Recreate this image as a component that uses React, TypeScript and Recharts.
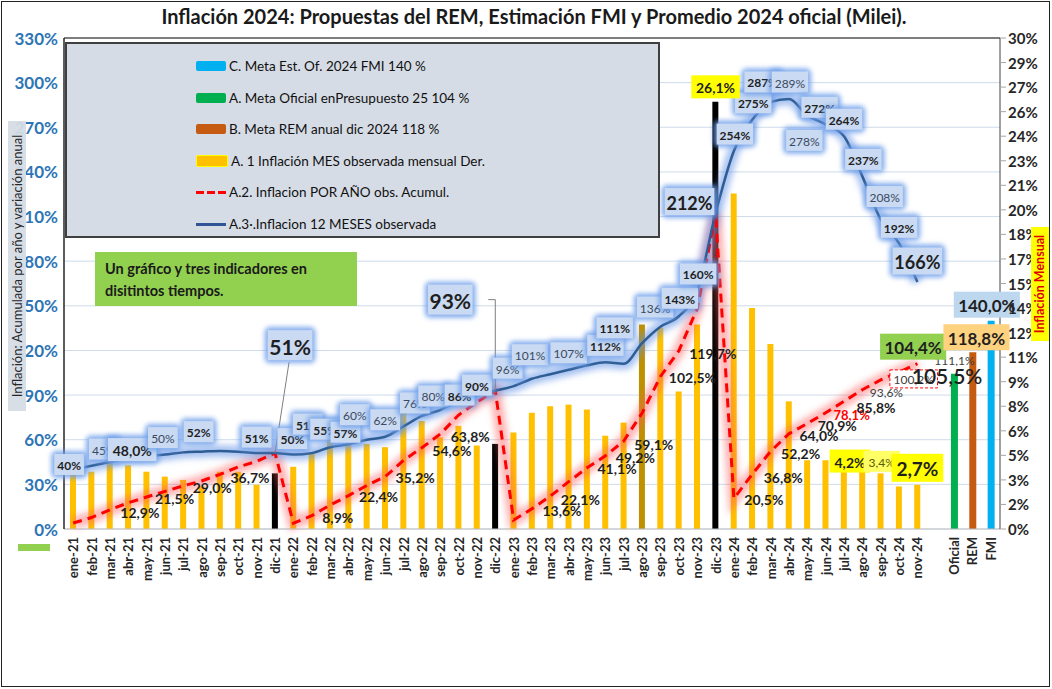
import React from 'react'
import { ComposedChart, Bar, Line, XAxis, YAxis, CartesianGrid, Cell, ReferenceLine } from 'recharts'

const FONT = "Lato, 'Open Sans', sans-serif"

const meses = [
  'ene-21', 'feb-21', 'mar-21', 'abr-21', 'may-21', 'jun-21', 'jul-21', 'ago-21', 'sep-21', 'oct-21', 'nov-21', 'dic-21',
  'ene-22', 'feb-22', 'mar-22', 'abr-22', 'may-22', 'jun-22', 'jul-22', 'ago-22', 'sep-22', 'oct-22', 'nov-22', 'dic-22',
  'ene-23', 'feb-23', 'mar-23', 'abr-23', 'may-23', 'jun-23', 'jul-23', 'ago-23', 'sep-23', 'oct-23', 'nov-23', 'dic-23',
  'ene-24', 'feb-24', 'mar-24', 'abr-24', 'may-24', 'jun-24', 'jul-24', 'ago-24', 'sep-24', 'oct-24', 'nov-24',
]

// inflacion mensual (eje derecho)
const mensual = [
  4.0, 3.5, 4.5, 3.9, 3.5, 3.2, 3.0, 2.6, 3.5, 3.5, 2.7, 3.4,
  3.8, 4.7, 5.5, 5.5, 5.2, 5.0, 7.1, 6.6, 5.6, 6.3, 5.1, 5.2,
  5.9, 7.1, 7.5, 7.6, 7.3, 5.7, 6.5, 12.5, 12.3, 8.4, 12.5, 26.1,
  20.5, 13.5, 11.3, 7.8, 4.2, 4.2, 3.6, 3.6, 3.4, 2.6, 2.7,
]

// inflacion 12 meses (eje izquierdo)
const interanual = [
  40, 42.5, 45, 48, 49, 50, 51.5, 52, 52.5, 52, 51, 51,
  50, 51, 55, 57, 60, 62, 69, 76, 80, 86, 90, 93,
  96, 101, 104, 107, 110, 112, 111, 125, 136, 143, 160, 212,
  254, 275, 287, 289, 278, 272, 264, 237, 208, 192, 166,
]

// inflacion acumulada en el año (eje izquierdo)
const acumulado = [
  4.0, 7.7, 12.9, 17.6, 21.5, 25.3, 29.0, 32.3, 36.7, 41.8, 45.4, 51,
  3.9, 8.9, 16.1, 22.4, 29.3, 35.2, 46.2, 54.6, 63.8, 76.6, 85.3, 93,
  6.0, 13.6, 22.1, 31.8, 41.1, 49.2, 59.1, 78, 102.5, 119.7, 148, 212,
  20.5, 36.8, 52.2, 64.0, 70.9, 78.1, 85.8, 93.6, 100.2, 105.5, 111.1,
]

const metasCat = ['Oficial', 'REM', 'FMI']
const metas = [104.4, 118.8, 140.0]
const metasColor = ['#00B050', '#C55A11', '#00B0F0']

const ticksIzq = [0, 15, 30, 45, 60, 75, 90, 105, 120, 135, 150, 165, 180, 195, 210, 225, 240, 255, 270, 285, 300, 315, 330]
const ticksDer = [0, 1.5, 3, 4.5, 6, 7.5, 9, 10.5, 12, 13.5, 15, 16.5, 18, 19.5, 21, 22.5, 24, 25.5, 27, 28.5, 30]

const categorias = [...meses, '', ...metasCat]
const data = categorias.map((cat, i) => {
  const m = i < meses.length
  const k = i - meses.length - 1
  return {
    cat,
    mensual: m ? mensual[i] : null,
    interanual: m ? interanual[i] : null,
    acumulado: m ? acumulado[i] : null,
    meta: k >= 0 ? metas[k] : null,
  }
})

const colorMes = (i: number) =>
  meses[i].startsWith('dic') ? '#000000' : meses[i] === 'ago-23' ? '#BF9000' : '#FFC000'

// etiquetas: [texto, dx, dy, estilo]
const etqInteranual: Record<number, [string, number, number, string]> = {
  0: ['40%', -4, -5, 'b'], 2: ['45%', -6, -13, 'g'], 3: ['48,0%', 4, -8, 'm'], 5: ['50%', -2, -17, 'g'],
  7: ['52%', -3, -20, 'b'], 10: ['51%', 0, -16, 'b'], 11: ['51%', 15, -108, 'L'], 12: ['50%', -1, -16, 'b'],
  13: ['51%', -4, -29, 'b'], 14: ['55%', -5, -18, 'b'], 15: ['57%', -3, -12, 'b'], 16: ['60%', -12, -25, 'g'],
  17: ['62%', 0, -17, 'g'], 19: ['76%', -7, -13, 'g'], 20: ['80%', -7, -14, 'g'], 21: ['86%', 1, -6, 'b'],
  22: ['90%', 0, -10, 'b'], 23: ['93%', -45, -91, 'L'], 24: ['96%', -6, -18, 'g'], 25: ['101%', -2, -24, 'g'],
  27: ['107%', 0, -17, 'g'], 29: ['112%', 0, -17, 'b'], 30: ['111%', -9, -36, 'b'], 31: ['136%', 13, -36, 'g'],
  33: ['143%', 1, -18, 'b'], 34: ['160%', 1, -17, 'b'], 35: ['212%', -26, -12, 'X'], 36: ['254%', 1, -17, 'b'],
  37: ['275%', 1, -17, 'b'], 38: ['287%', -8, -20, 'b'], 39: ['289%', 1, -17, 'g'], 40: ['278%', -3, 25, 'g'],
  41: ['272%', -6, -17, 'b'], 42: ['264%', 0, -17, 'b'], 43: ['237%', 1, -17, 'b'], 44: ['208%', 4, -23, 'g'],
  45: ['192%', 0, -16, 'b'], 46: ['166%', 0, -21, 'X'],
}

const etqAcum: Record<number, [string, number, number, string]> = {
  2: ['12,9%', 30, 2, ''], 4: ['21,5%', 28, 0, ''], 6: ['29,0%', 29, 1, ''], 8: ['36,7%', 30, 2, ''],
  13: ['8,9%', 26, 1, ''], 15: ['22,4%', 30, 0, ''], 17: ['35,2%', 30, 0, ''], 19: ['54,6%', 30, 2, ''],
  20: ['63,8%', 30, 1, ''], 25: ['13,6%', 30, 1, ''], 26: ['22,1%', 30, 2, ''], 28: ['41,1%', 30, 0, ''],
  29: ['49,2%', 30, 1, ''], 30: ['59,1%', 30, 2, ''], 32: ['102,5%', 32, 0, ''], 33: ['119,7%', 34, 2, ''],
  36: ['20,5%', 30, 0, ''], 37: ['36,8%', 31, 2, ''], 38: ['52,2%', 30, 1, ''], 39: ['64,0%', 30, 1, ''],
  40: ['70,9%', 30, 1, ''], 41: ['78,1%', 26, 1, 'r'], 42: ['85,8%', 32, 5, ''], 43: ['93,6%', 24, 2, 'g'],
  44: ['100,2%', 33, -1, 'box'], 46: ['111,1%', 37, -4, 'g'], 45: ['105,5%', 48, 2, 'L'],
}

const etqMensual: Record<number, [string, number, number, string]> = {
  35: ['26,1%', 0, -15, 'y'], 42: ['4,2%', 6, -9, 'y'], 44: ['3,4%', 1, -12, 'ly'], 46: ['2,7%', 0, -17, 'Y'],
}

const etqMetas: Record<number, [string, number, number, string]> = {
  48: ['104,4%', -41, -27, '#92D050'], 49: ['118,8%', 4, -15, '#FFD27F'], 50: ['140,0%', -4, -16, '#BDD7EE'],
}

const Caja = ({ cx, cy, text, fs, weight, color, fill, glow }: any) => {
  const w = text.length * fs * 0.55 + 10
  const h = fs + 9
  return (
    <g>
      {glow && (
        <rect x={cx - w / 2 - 3} y={cy - h / 2 - 3} width={w + 6} height={h + 6} rx={5}
          fill={glow} opacity={0.85} filter="url(#suave)" />
      )}
      <rect x={cx - w / 2} y={cy - h / 2} width={w} height={h} fill={fill} />
      <text x={cx} y={cy + 1} textAnchor="middle" dominantBaseline="central" fontSize={fs}
        fontWeight={weight} fill={color} fontFamily={FONT}>{text}</text>
    </g>
  )
}

const dotInteranual = (p: any) => {
  const { cx, cy, index } = p
  const cfg = etqInteranual[index]
  if (cx == null || cy == null || !cfg) return <g key={`bi${index}`} />
  const [t, dx, dy, s] = cfg
  const fs = s === 'L' ? 21 : s === 'X' ? 18 : s === 'm' ? 14 : 12
  const weight = s === 'g' ? 400 : 700
  const color = s === 'g' ? '#3B4A60' : '#1F1F1F'
  const bx = cx + dx
  const by = cy + dy
  return (
    <g key={`bi${index}`}>
      {index === 11 && <line x1={bx - 1} y1={by + 17} x2={cx} y2={cy} stroke="#7F7F7F" strokeWidth={1} />}
      {index === 23 && <polyline points={`${bx + 38},${by} ${cx},${by} ${cx},${cy}`} fill="none" stroke="#7F7F7F" strokeWidth={1} />}
      <Caja cx={bx} cy={by} text={t} fs={fs} weight={weight} color={color} fill="#C9DAF2" glow="#6E9FEA" />
    </g>
  )
}

const dotAcum = (p: any) => {
  const { cx, cy, index } = p
  const cfg = etqAcum[index]
  if (cx == null || cy == null || !cfg) return <g key={`ra${index}`} />
  const [t, dx, dy, s] = cfg
  const fs = s === 'L' ? 21 : s === 'g' || s === 'box' ? 12 : s === 'r' ? 13 : 14
  const color = s === 'r' ? '#FF0000' : s === 'g' || s === 'box' ? '#404040' : '#1F1F1F'
  const weight = s === 'g' || s === 'box' ? 400 : s === 'L' ? 600 : 700
  const w = t.length * fs * 0.55 + 8
  return (
    <g key={`ra${index}`}>
      {s === 'box' && (
        <rect x={cx + dx - w / 2} y={cy + dy - 9} width={w} height={18} fill="#FFFFFF"
          stroke="#FF0000" strokeDasharray="3 2" strokeWidth={1} />
      )}
      <text x={cx + dx} y={cy + dy + 1} textAnchor="middle" dominantBaseline="central" fontSize={fs}
        fontWeight={weight} fill={color} fontFamily={FONT}>{t}</text>
    </g>
  )
}

const dotMensual = (p: any) => {
  const { cx, cy, index } = p
  const cfg = etqMensual[index]
  if (cx == null || cy == null || !cfg) return <g key={`bm${index}`} />
  const [t, dx, dy, s] = cfg
  const fs = s === 'Y' ? 19 : s === 'ly' ? 12 : 14
  return (
    <Caja key={`bm${index}`} cx={cx + dx} cy={cy + dy} text={t} fs={fs} weight={s === 'ly' ? 400 : 700}
      color={s === 'ly' ? '#5A5A00' : '#1F1F1F'} fill={s === 'ly' ? '#FFFF66' : '#FFFF00'} />
  )
}

const dotMetas = (p: any) => {
  const { cx, cy, index } = p
  const cfg = etqMetas[index]
  if (cx == null || cy == null || !cfg) return <g key={`mt${index}`} />
  const [t, dx, dy, fill] = cfg
  return (
    <Caja key={`mt${index}`} cx={cx + dx} cy={cy + dy} text={t} fs={17} weight={700} color="#1F1F1F" fill={fill} />
  )
}

const TickMes = (props: any) => {
  const { x, y, payload } = props
  return (
    <text x={x} y={y} transform={`rotate(-90, ${x}, ${y})`} textAnchor="end" dominantBaseline="central"
      fontSize={13} fontWeight={700} fill="#262626" fontFamily={FONT}>{payload.value}</text>
  )
}

const TickIzq = (props: any) => {
  const { x, y, payload } = props
  return (
    <text x={x} y={y} textAnchor="end" dominantBaseline="central" fontSize={17} fontWeight={700}
      fill="#2E75B6" fontFamily={FONT}>{`${payload.value}%`}</text>
  )
}

const TickDer = (props: any) => {
  const { x, y, payload } = props
  return (
    <text x={x} y={y} textAnchor="start" dominantBaseline="central" fontSize={15} fontWeight={700}
      fill="#262626" fontFamily={FONT}>{`${Math.round(payload.value)}%`}</text>
  )
}

const leyenda = [
  { t: 'C. Meta Est. Of. 2024 FMI 140 %', k: 'bar', c: '#00B0F0' },
  { t: 'A. Meta Oficial enPresupuesto 25 104 %', k: 'bar', c: '#00B050' },
  { t: 'B. Meta REM anual dic 2024 118 %', k: 'bar', c: '#C55A11' },
  { t: 'A. 1 Inflación MES observada mensual Der.', k: 'bar', c: '#FFC000' },
  { t: 'A.2. Inflacion POR AÑO obs. Acumul.', k: 'dash', c: '#FF0000' },
  { t: 'A.3·.Inflacion 12 MESES observada', k: 'line', c: '#2F5597' },
]

const Muestra = ({ k, c }: { k: string; c: string }) => {
  if (k === 'bar') return <div style={{ width: 30, height: 10, background: c, borderRadius: 2, border: c === '#FFC000' ? '1px solid #FFFF00' : 'none' }} />
  if (k === 'dash') {
    return (
      <div style={{ width: 30, height: 10, display: 'flex', alignItems: 'center', gap: 3 }}>
        {[0, 1, 2].map(i => <div key={i} style={{ width: 8, height: 3, background: c }} />)}
      </div>
    )
  }
  return <div style={{ width: 30, height: 10, display: 'flex', alignItems: 'center' }}><div style={{ width: 30, height: 3, background: c }} /></div>
}

export default function App() {
  return (
    <div style={{ position: 'absolute', left: 0, top: 0, width: 1052, height: 689, background: '#fff', fontFamily: FONT, overflow: 'hidden' }}>
      <ComposedChart width={1052} height={689} data={data} margin={{ top: 38, right: 0, bottom: 100, left: 0 }}>
        <defs>
          <filter id="suave" x="-50%" y="-50%" width="200%" height="200%">
            <feGaussianBlur stdDeviation="2.5" />
          </filter>
          <filter id="brillo" filterUnits="userSpaceOnUse" x="0" y="0" width="1052" height="689">
            <feGaussianBlur stdDeviation="3" />
          </filter>
        </defs>
        <CartesianGrid vertical={false} yAxisId="L" xAxisId="x" stroke="#CFDBEA" />
        <XAxis xAxisId="x" dataKey="cat" interval={0} tick={<TickMes />} tickLine={false} height={60}
          axisLine={{ stroke: '#BFBFBF' }} />
        <XAxis xAxisId="x2" dataKey="cat" hide />
        <YAxis yAxisId="L" domain={[0, 330]} ticks={ticksIzq} width={64} tick={<TickIzq />} tickLine={false}
          tickSize={4} tickMargin={2} axisLine={{ stroke: '#262626', strokeWidth: 1.5 }} />
        <YAxis yAxisId="R" orientation="right" domain={[0, 30]} ticks={ticksDer} width={52} tick={<TickDer />}
          tickLine={{ stroke: '#A6A6A6' }} tickSize={6} tickMargin={2} axisLine={{ stroke: '#404040' }} />
        <ReferenceLine yAxisId="L" xAxisId="x" y={330} stroke="#595959" strokeWidth={1.5} />

        <Bar xAxisId="x" yAxisId="R" dataKey="mensual" barSize={6} isAnimationActive={false}>
          {data.map((d, i) => <Cell key={`m${i}`} fill={i < meses.length ? colorMes(i) : 'none'} />)}
        </Bar>
        <Bar xAxisId="x2" yAxisId="L" dataKey="meta" barSize={7} isAnimationActive={false}>
          {data.map((d, i) => <Cell key={`t${i}`} fill={i > meses.length ? metasColor[i - meses.length - 1] : 'none'} />)}
        </Bar>

        <Line xAxisId="x" yAxisId="L" dataKey="acumulado" type="linear" stroke="#FF5A5A" strokeWidth={12}
          strokeOpacity={0.45} dot={false} filter="url(#brillo)" isAnimationActive={false} legendType="none" />
        <Line xAxisId="x" yAxisId="L" dataKey="interanual" type="monotone" stroke="#5E8FE6" strokeWidth={12}
          strokeOpacity={0.55} dot={false} filter="url(#brillo)" isAnimationActive={false} legendType="none" />
        <Line xAxisId="x" yAxisId="L" dataKey="acumulado" type="linear" stroke="#FF0000" strokeWidth={3}
          strokeDasharray="9 6" dot={false} isAnimationActive={false} />
        <Line xAxisId="x" yAxisId="L" dataKey="interanual" type="monotone" stroke="#2E5D94" strokeWidth={2.5}
          dot={false} isAnimationActive={false} />

        <Line xAxisId="x" yAxisId="L" dataKey="acumulado" stroke="none" dot={dotAcum} activeDot={false}
          isAnimationActive={false} legendType="none" />
        <Line xAxisId="x" yAxisId="L" dataKey="interanual" stroke="none" dot={dotInteranual} activeDot={false}
          isAnimationActive={false} legendType="none" />
        <Line xAxisId="x" yAxisId="R" dataKey="mensual" stroke="none" dot={dotMensual} activeDot={false}
          isAnimationActive={false} legendType="none" />
        <Line xAxisId="x2" yAxisId="L" dataKey="meta" stroke="none" dot={dotMetas} activeDot={false}
          isAnimationActive={false} legendType="none" />
      </ComposedChart>

      <div style={{ position: 'absolute', left: 0, top: 4, width: 1068, textAlign: 'center', fontSize: 20,
        fontWeight: 700, color: '#1A1A1A' }}>
        Inflación 2024: Propuestas del REM, Estimación FMI y Promedio 2024 oficial (Milei).
      </div>

      <div style={{ position: 'absolute', left: 65, top: 42, width: 591, height: 192, background: '#D6DCE5',
        border: '2px solid #404040' }}>
        {leyenda.map((l, i) => (
          <div key={i} style={{ position: 'absolute', left: 129, top: 13 + i * 31.6, height: 18, display: 'flex',
            alignItems: 'center', gap: 3, fontSize: 13.5, color: '#111', whiteSpace: 'nowrap' }}>
            <Muestra k={l.k} c={l.c} />
            <span>{l.t}</span>
          </div>
        ))}
      </div>

      <div style={{ position: 'absolute', left: 95, top: 252, width: 262, height: 54, background: '#92D050',
        boxSizing: 'border-box', padding: '6px 0 0 10px', fontSize: 14.5, fontWeight: 700, color: '#1A1A1A',
        lineHeight: '22px' }}>
        Un gráfico y tres indicadores  en<br />disitintos tiempos.
      </div>

      <div style={{ position: 'absolute', left: 17 - 145, top: 266 - 9, width: 290, height: 18,
        transform: 'rotate(-90deg)', background: 'rgba(214,220,229,0.95)', fontSize: 13, color: '#262626',
        textAlign: 'center', lineHeight: '18px', whiteSpace: 'nowrap' }}>
        Inflación: Acumulada por año y variación anual
      </div>

      <div style={{ position: 'absolute', left: 1040 - 57, top: 284 - 9, width: 114, height: 18,
        transform: 'rotate(-90deg)', background: '#FFFF00', fontSize: 12.5, fontWeight: 700, color: '#E00000',
        textAlign: 'center', lineHeight: '18px', whiteSpace: 'nowrap' }}>
        Inflación Mensual
      </div>

      <div style={{ position: 'absolute', left: 18, top: 544, width: 32, height: 7, background: '#92D050' }} />
      <div style={{ position: 'absolute', left: 1, top: 1, width: 1047, height: 684, border: '1.5px solid #222',
        pointerEvents: 'none' }} />
    </div>
  )
}
